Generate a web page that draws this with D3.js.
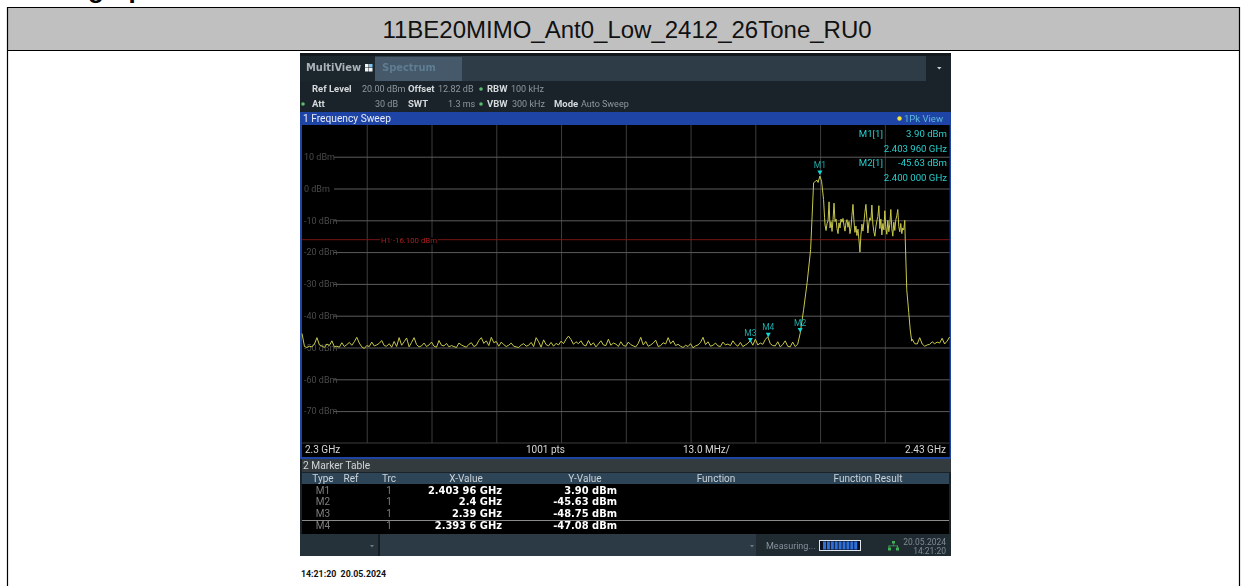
<!DOCTYPE html>
<html>
<head>
<meta charset="utf-8">
<script src="https://cdn.jsdelivr.net/npm/d3@7"></script>
<style>
    html, body { margin: 0; padding: 0; background: #fff; overflow: hidden; }
    svg { display: block; }
    .inst text { font-family: Roboto, sans-serif; font-size: 10px; }
    .inst text.wide { font-family: "DejaVu Sans", sans-serif; font-stretch: condensed; font-weight: bold; }
</style>
</head>
<body>
<div id="chart"></div>
<script>
const chartTitle = "11BE20MIMO_Ant0_Low_2412_26Tone_RU0";

// noise floor, 2300 MHz upward, one value per 0.5 MHz
const floorLevels = [
    -45.6,-49.7,-50.0,-49.6,-49.8,-48.9,-46.9,-49.2,-49.5,-50.0,
    -48.9,-49.4,-47.9,-49.8,-49.6,-49.9,-48.5,-49.7,-49.1,-48.4,
    -49.3,-48.2,-46.8,-48.6,-49.8,-50.3,-49.4,-49.7,-48.3,-49.5,
    -49.2,-48.7,-47.8,-49.4,-49.6,-48.8,-49.9,-48.1,-49.7,-46.9,
    -49.3,-48.2,-47.0,-49.8,-48.4,-46.9,-49.1,-49.8,-49.5,-48.6,
    -49.7,-49.2,-48.3,-49.6,-49.9,-47.8,-49.3,-49.5,-48.7,-49.8,
    -49.4,-49.7,-50.0,-48.6,-49.2,-49.6,-49.9,-49.0,-48.5,-49.7,
    -49.3,-47.8,-46.9,-48.7,-47.9,-49.4,-46.8,-48.5,-48.1,-49.6,
    -48.3,-49.1,-49.7,-49.3,-48.6,-49.6,-49.8,-50.0,-49.2,-48.8,
    -49.6,-49.3,-48.4,-49.7,-46.9,-48.2,-49.9,-47.6,-49.1,-49.5,
    -48.4,-49.6,-48.7,-49.2,-48.0,-48.8,-47.4,-46.4,-47.5,-49.0,
    -48.2,-48.8,-47.9,-49.2,-49.5,-47.8,-49.3,-48.5,-49.8,-48.9,
    -47.9,-49.2,-49.4,-47.4,-49.3,-48.6,-48.9,-49.7,-48.2,-49.4,
    -49.6,-48.3,-49.1,-49.5,-49.8,-48.7,-46.8,-49.2,-48.1,-49.6,
    -49.2,-48.6,-47.7,-49.7,-49.4,-48.5,-48.9,-46.9,-48.8,-47.9,
    -49.4,-49.0,-49.6,-50.0,-49.3,-49.7,-48.8,-50.1,-49.5,-49.2,
    -48.4,-46.8,-49.1,-48.2,-49.6,-49.3,-48.6,-49.5,-49.7,-48.3,
    -49.2,-48.9,-49.4,-47.9,-49.0,-49.6,-48.4,-49.7,-49.2,-48.7,
    -47.8,-49.3,-47.4,-49.2,-48.6,-49.0,-47.5,-46.6,-48.8,-49.4,
    -49.5,-48.2,-49.8,-49.1,-47.9,-49.6,-49.8,-48.3,-49.7,-49.0
];

// skirt and peak of the 26 tone RU
const riseFreqs = [2400.0, 2400.7, 2401.4, 2402.1, 2402.4, 2402.7, 2403.1, 2403.4, 2403.6, 2403.96, 2404.3, 2404.7, 2404.9];
const riseLevels = [-45.63, -38, -29.6, -19.2, -8.7, 1.8, 2.3, 2.6, 1.9, 3.9, 2.3, -3.5, -9.2];

// plateau, 2405 MHz upward, one value per 0.2 MHz
const plateauLevels = [
    -11.5,-13.2,-11.0,-10.2,-4.2,-12.4,-10.4,-13.5,-9.8,-4.6,
    -10.4,-9.6,-12.6,-14.2,-10.8,-12.4,-9.6,-10.6,-9.4,-11.6,
    -13.4,-10.8,-9.8,-12.2,-10.4,-14.2,-12.4,-8.4,-5.0,-10.2,
    -13.8,-11.8,-14.8,-12.8,-16.0,-20.0,-14.6,-11.2,-13.4,-10.6,
    -7.5,-5.0,-9.4,-14.0,-10.8,-9.2,-10.0,-5.2,-11.2,-13.6,
    -15.0,-12.0,-10.2,-8.8,-5.4,-12.6,-9.6,-14.6,-11.0,-13.0,
    -7.0,-12.4,-14.4,-10.0,-13.6,-11.2,-6.6,-12.6,-15.0,-10.6,
    -13.2,-9.8,-8.6,-6.6,-12.0,-13.6,-11.0,-14.2,-12.4,-13.0,
    -10.0
];

const fallFreqs = [2421.1, 2421.4, 2421.8, 2422.1, 2422.4];
const fallLevels = [-16, -31.8, -39, -44.5, -48];

// tail after the fall, 2422.5 MHz upward, one value per 0.5 MHz
const tailLevels = [-47.4,-48.8,-48.9,-46.9,-48.9,-49.6,-49.2,-49.0,-48.2,-48.8,-48.3,-48.6,-47.1,-48.9,-48.0,-46.7];

const dbTicks = [10, 0, -10, -20, -30, -40, -50, -60, -70];
const freqTicks = [2313, 2326, 2339, 2352, 2365, 2378, 2391, 2404, 2417];
const limitLevel = -16.1;
const limitLabel = "H1 -16.100 dBm";

const markerNames = ["M1", "M2", "M3", "M4"];
const markerFreqs = [2403.96, 2400, 2390, 2393.6];
const markerLevels = [3.9, -45.63, -48.75, -47.08];
const markerXText = ["2.403 96 GHz", "2.4 GHz", "2.39 GHz", "2.393 6 GHz"];
const markerYText = ["3.90 dBm", "-45.63 dBm", "-48.75 dBm", "-47.08 dBm"];
const tableHeads = ["Type", "Ref", "Trc", "X-Value", "Y-Value", "Function", "Function Result"];

const wPage = 1246;
const hPage = 586;
const cyan = "#27cfcf";

const svg = d3.select("#chart").append("svg")
    .attr("width", wPage)
    .attr("height", hPage);

svg.append("defs").append("filter")
    .attr("id", "soft")
    .attr("color-interpolation-filters", "sRGB")
    .attr("x", 0).attr("y", 0).attr("width", 1).attr("height", 1)
    .append("feGaussianBlur").attr("stdDeviation", 0.4);

renderPage();
const inst = svg.append("g").attr("class", "inst").attr("filter", "url(#soft)");
renderFrame();
renderPlot();
renderMarkerTable();
renderStatusBar();

function box(parent, x, y, w, h, fill){
    return parent.append("rect")
        .attr("x", x).attr("y", y)
        .attr("width", w).attr("height", h)
        .attr("fill", fill);
}

function label(parent, x, y, str, fill, anchor = "start"){
    return parent.append("text")
        .attr("x", x).attr("y", y)
        .attr("fill", fill)
        .attr("text-anchor", anchor)
        .text(str);
}

function renderPage(){
    // heading above the table, only its descenders are left in the crop
    svg.append("text")
        .attr("x", 88).attr("y", -2)
        .attr("font-family", "Liberation Sans")
        .attr("font-weight", "bold")
        .attr("font-size", 26)
        .text("graph");

    box(svg, 7, 7, 1232, 43, "#c0c0c0");
    svg.append("path")
        .attr("d", "M7.5 586V7.5H1239.5V586M7 50.5H1240")
        .attr("fill", "none")
        .attr("stroke", "#000")
        .attr("stroke-width", 1.2);

    svg.append("text")
        .attr("x", 627).attr("y", 38)
        .attr("text-anchor", "middle")
        .attr("font-family", "Liberation Sans")
        .attr("font-size", 24)
        .attr("fill", "#111")
        .text(chartTitle);

    svg.append("text")
        .attr("x", 301).attr("y", 577)
        .attr("font-family", "Roboto")
        .attr("font-weight", "bold")
        .attr("font-size", 8.8)
        .attr("fill", "#111")
        .style("white-space", "pre")
        .text("14:21:20  20.05.2024");
}

function renderFrame(){
    box(inst, 300, 53, 651, 503, "#1a2329");
    box(inst, 300, 53, 651, 3, "#12181c");
    box(inst, 300, 56, 626, 25, "#2e3c47");
    box(inst, 300, 56, 75, 25, "#1c262d");
    box(inst, 375, 57, 87, 24, "#46596b");

    label(inst, 306, 71, "MultiView", "#aab3ba").attr("class", "wide").style("font-size", "11px");
    label(inst, 382, 71, "Spectrum", "#5f7d92").attr("class", "wide").style("font-size", "11px");

    const iconX = [365, 369];
    const iconY = [64, 68];
    iconX.forEach((x, i) => iconY.forEach((y, j) => {
        box(inst, x, y, 3.5, 3.5, i == 1 && j == 0 ? "#7fc4ee" : "#eef3f6");
    }));
    inst.append("path").attr("d", "M937 67h4.5l-2.2 2.6z").attr("fill", "#c9d0d5");

    // [x, text, heading?]
    const row1 = [[312, "Ref Level", true], [362, "20.00 dBm", false], [408, "Offset", true], [438, "12.82 dB", false], [487, "RBW", true], [511, "100 kHz", false]];
    const row2 = [[312, "Att", true], [375, "30 dB", false], [408, "SWT", true], [448, "1.3 ms", false], [487, "VBW", true], [512, "300 kHz", false], [554, "Mode", true], [581, "Auto Sweep", false]];
    const infoRow = (row, ry) => row.forEach(d => {
        label(inst, d[0], ry, d[1], d[2] ? "#d4d9dc" : "#8f989e")
            .attr("font-weight", d[2] ? "bold" : "normal")
            .style("font-size", d[2] ? "9.5px" : "9px");
    });
    infoRow(row1, 92);
    infoRow(row2, 107);

    const dots = [[481, 89], [303, 104], [481, 104]];
    dots.forEach(d => inst.append("circle").attr("cx", d[0]).attr("cy", d[1]).attr("r", 1.8).attr("fill", "#5dbb70"));

    box(inst, 300, 112, 651, 13, "#1e44a6");
    label(inst, 303, 122, "1 Frequency Sweep", "#e6ebf5").style("font-size", "10.2px");
    inst.append("circle").attr("cx", 899.5).attr("cy", 118.5).attr("r", 2.2).attr("fill", "#f2e23a");
    label(inst, 904, 122, "1Pk View", "#5fb8d8").style("font-size", "9.5px");

    // blue rim around the plot and the label strip
    box(inst, 300, 125, 2, 334, "#1e44a6");
    box(inst, 949.5, 125, 1.5, 334, "#1e44a6");
    box(inst, 300, 457, 651, 2, "#1e44a6");
    box(inst, 302, 125, 647.5, 332, "#000");

    label(inst, 305, 453, "2.3 GHz", "#d6d6d6");
    label(inst, 526, 453, "1001 pts", "#d6d6d6");
    label(inst, 683, 453, "13.0 MHz/", "#d6d6d6");
    label(inst, 946, 453, "2.43 GHz", "#d6d6d6", "end");
}

function renderPlot(){
    const x = d3.scaleLinear().domain([2300, 2430]).range([302, 949.6]);
    const y = d3.scaleLinear().domain([20, -80]).range([124.9, 442.9]);

    const gridX = inst.append("g")
        .attr("transform", "translate(0, 443)")
        .call(d3.axisBottom(x).tickValues(freqTicks).tickSize(-318).tickFormat(""));
    gridX.select(".domain").remove();
    gridX.selectAll("line").attr("stroke", "#3d3d3d");

    box(inst, 302, 442.5, 647.5, 1, "#3d3d3d");

    const gridY = inst.append("g")
        .attr("transform", "translate(334, 0)")
        .call(d3.axisRight(y).tickValues(dbTicks).tickSize(615.6).tickFormat(d => `${d} dBm`));
    gridY.select(".domain").remove();
    gridY.selectAll("line").attr("stroke", "#5c5c5c");
    gridY.selectAll("text")
        .attr("x", -30)
        .attr("text-anchor", "start")
        .attr("fill", "#4a4a4a")
        .style("font-size", "9px");

    inst.append("line")
        .attr("x1", x.range()[0]).attr("x2", x.range()[1])
        .attr("y1", y(limitLevel)).attr("y2", y(limitLevel))
        .attr("stroke", "#7a1414");
    label(inst, 381, y(limitLevel) + 3, limitLabel, "#a82020")
        .attr("stroke", "#000").attr("stroke-width", 3).attr("paint-order", "stroke")
        .style("font-size", "7.8px");

    const trace = [
        ...floorLevels.map((v, i) => [2300 + i * 0.5, v]),
        ...riseFreqs.map((f, i) => [f, riseLevels[i]]),
        ...plateauLevels.map((v, i) => [2405 + i * 0.2, v]),
        ...fallFreqs.map((f, i) => [f, fallLevels[i]]),
        ...tailLevels.map((v, i) => [2422.5 + i * 0.5, v])
    ];

    const line = d3.line().x(d => x(d[0])).y(d => y(d[1]));
    inst.append("path")
        .datum(trace)
        .attr("d", line)
        .attr("fill", "none")
        .attr("stroke", "#c8c84c")
        .attr("stroke-width", 1);

    const markers = inst.append("g")
        .selectAll("g")
        .data(markerNames)
        .enter()
        .append("g")
        .attr("transform", (d, i) => `translate(${x(markerFreqs[i])}, ${y(markerLevels[i])})`);

    markers.append("path")
        .attr("d", "M-2.5 -5.5H2.5L0 -1z")
        .attr("fill", "#14d6d6");

    markers.append("text")
        .attr("y", -8)
        .attr("text-anchor", "middle")
        .attr("fill", "#1fa8a8")
        .style("font-size", "8.5px")
        .text(d => d);

    const readouts = [
        [883, 137, "M1[1]"], [947, 137, "3.90 dBm"], [947, 152, "2.403 960 GHz"],
        [883, 166, "M2[1]"], [947, 166, "-45.63 dBm"], [947, 181, "2.400 000 GHz"]
    ];
    readouts.forEach(d => label(inst, d[0], d[1], d[2], cyan, "end").style("font-size", "9.6px"));
}

function renderMarkerTable(){
    box(inst, 302, 459, 649, 13, "#343b3f");
    label(inst, 303, 468.5, "2 Marker Table", "#cfd4d7").style("font-size", "10.2px");

    box(inst, 302, 473, 647, 11, "#2e4557");
    box(inst, 302, 484, 647, 50, "#000");
    const headX = [323, 351, 389, 466, 585, 716, 868];
    tableHeads.forEach((h, i) => label(inst, headX[i], 481.5, h, "#c9d3da", "middle"));

    const rowY = [493.5, 505, 516.5, 529];
    rowY.forEach((ry, i) => {
        label(inst, 323, ry, markerNames[i], "#7e7e7e", "middle");
        label(inst, 389, ry, "1", "#7e7e7e", "middle");
        label(inst, 502, ry, markerXText[i], "#fff", "end").attr("class", "wide").style("font-size", "11px");
        label(inst, 617, ry, markerYText[i], "#fff", "end").attr("class", "wide").style("font-size", "11px");
    });
    box(inst, 302, 520, 647, 1, "#8a8a8a");
}

function renderStatusBar(){
    box(inst, 300, 534, 651, 22, "#26323a");
    box(inst, 378, 534, 378, 22, "#2b3a44");
    box(inst, 378, 534, 2, 22, "#161d22");
    box(inst, 756, 534, 195, 22, "#1f2a31");
    inst.append("path").attr("d", "M370 545h4l-2 2.4z").attr("fill", "#6e7a82");
    inst.append("path").attr("d", "M750 545h4l-2 2.4z").attr("fill", "#6e7a82");

    label(inst, 766, 549, "Measuring...", "#87939b").style("font-size", "9px");

    box(inst, 819, 540, 42, 11, "#dfe6ee");
    box(inst, 820, 541, 40, 9, "#0a1020");
    d3.range(9).forEach(i => box(inst, 823 + i * 3.9, 541.5, 3, 8, "#2f6fd8"));

    inst.append("path").attr("d", "M892 541h3v2.5h-3zM893.2 543.5h.6v2h4.2v2h-1v-1.2h-7.6v1.2h-1v-2h4.8z").attr("fill", "#3fae55");
    box(inst, 888, 547.5, 3, 3, "#3fae55");
    box(inst, 896, 547.5, 3, 3, "#3fae55");

    label(inst, 946, 545, "20.05.2024", "#7f8b93", "end").style("font-size", "8.5px");
    label(inst, 946, 554, "14:21:20", "#7f8b93", "end").style("font-size", "8.5px");
}
</script>
</body>
</html>
